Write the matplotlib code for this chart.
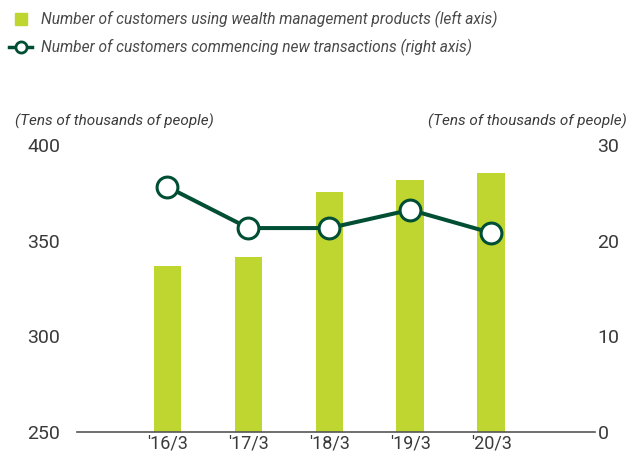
import matplotlib.pyplot as plt
from matplotlib.lines import Line2D

# data
years = ["'16/3", "'17/3", "'18/3", "'19/3", "'20/3"]
wealth_customers = [336.8, 341.6, 375.1, 381.7, 385.4]   # left axis
new_customers = [25.6, 21.3, 21.3, 23.2, 20.8]           # right axis

bar_color = '#BED62F'
line_color = '#004F35'
text_color = '#3a3a3a'

plt.rcParams['font.family'] = ['Roboto', 'DejaVu Sans']

fig = plt.figure(figsize=(6.3, 4.53), dpi=100)
ax = fig.add_axes([0.122, 0.0464, 0.822, 0.634])
ax2 = ax.twinx()

x = list(range(len(years)))
ax.bar(x, wealth_customers, width=0.34, color=bar_color, zorder=2)
ax2.plot(x, new_customers, color=line_color, lw=2.9, marker='o', ms=15,
         mfc='white', mec=line_color, mew=2.2, zorder=3)

ax.set_xlim(-1.12, 5.28)
ax.set_ylim(250, 400)
ax2.set_ylim(0, 30)
ax.set_yticks([250, 300, 350, 400])
ax2.set_yticks([0, 10, 20, 30])
ax.set_xticks(x)
ax.set_xticklabels(years)

for a in (ax, ax2):
    for s in ('top', 'left', 'right'):
        a.spines[s].set_visible(False)
ax2.spines['bottom'].set_visible(False)
ax.spines['bottom'].set_color('#555555')
ax.spines['bottom'].set_linewidth(1.2)

ax.tick_params(axis='y', length=0, pad=12, labelsize=14, labelcolor=text_color)
ax2.tick_params(axis='y', length=0, pad=2, labelsize=14, labelcolor=text_color)
ax.tick_params(axis='x', length=0, pad=2, labelsize=13, labelcolor=text_color)

fig.text(15 / 630, 1 - 121 / 453, '(Tens of thousands of people)', style='italic',
         fontsize=11, color=text_color, va='center', ha='left')
fig.text(627 / 630, 1 - 121 / 453, '(Tens of thousands of people)', style='italic',
         fontsize=11, color=text_color, va='center', ha='right')

handles = [Line2D([], [], ls='none', marker='s', ms=9, color=bar_color),
           Line2D([], [], color=line_color, lw=2.5, marker='o', ms=8,
                  mfc='white', mec=line_color, mew=2)]
labels = ['Number of customers using wealth management products (left axis)',
          'Number of customers commencing new transactions (right axis)']
fig.legend(handles, labels, loc='upper left', bbox_to_anchor=(-0.003, 1.0),
           frameon=False, prop={'style': 'italic', 'size': 11.2},
           labelcolor='#4a4a4a', handlelength=1.5, handletextpad=0.55,
           labelspacing=0.7, borderaxespad=0.3)

fig.savefig('out.png', dpi=100)
